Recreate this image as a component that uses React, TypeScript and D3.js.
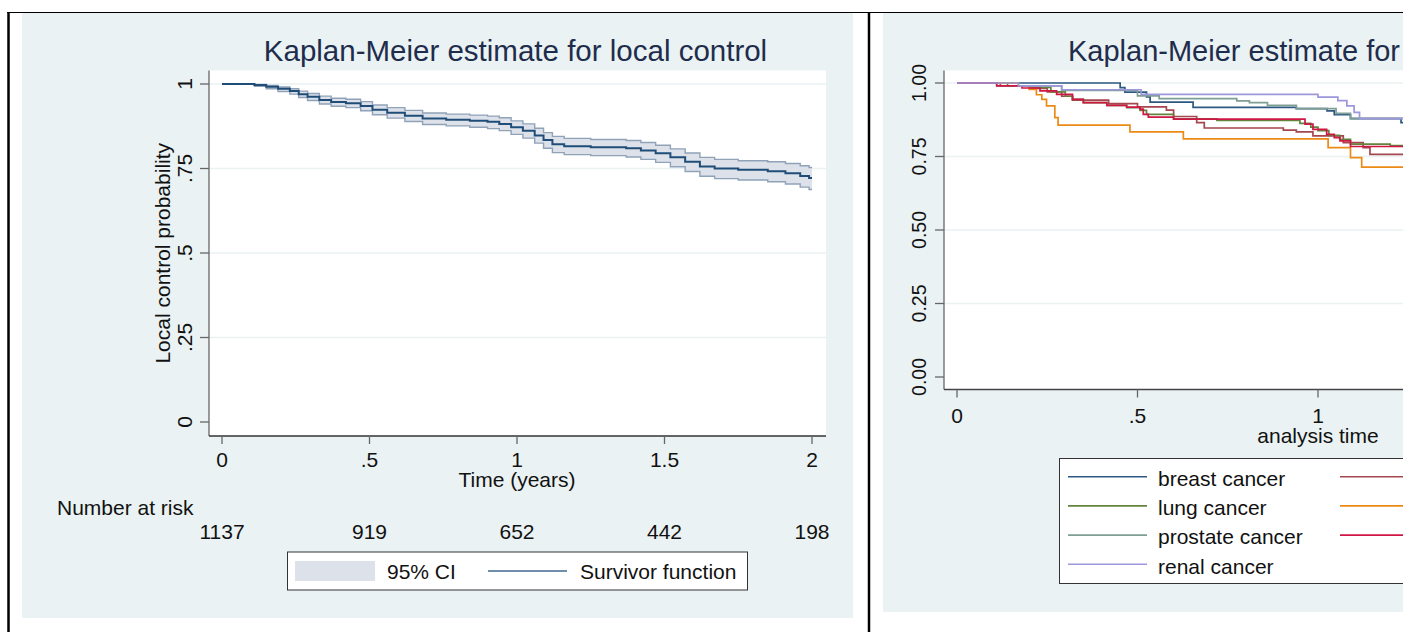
import React from "react";
import * as d3 from "d3";

// overall local control
const kmTime = [0, 0.11, 0.15, 0.19, 0.23, 0.26, 0.29, 0.33, 0.37, 0.42, 0.47, 0.51, 0.56, 0.62, 0.68, 0.76, 0.84, 0.9, 0.94, 0.98, 1.02, 1.06, 1.09, 1.12, 1.16, 1.25, 1.37, 1.42, 1.47, 1.52, 1.57, 1.62, 1.67, 1.75, 1.85, 1.91, 1.96, 1.99, 2.0];
const kmSurv = [1, 0.997, 0.992, 0.986, 0.979, 0.97, 0.962, 0.953, 0.947, 0.943, 0.935, 0.924, 0.915, 0.906, 0.898, 0.894, 0.891, 0.888, 0.882, 0.872, 0.862, 0.848, 0.834, 0.822, 0.816, 0.813, 0.81, 0.803, 0.795, 0.783, 0.77, 0.756, 0.75, 0.746, 0.742, 0.736, 0.728, 0.722, 0.722];
const kmLower = [1, 0.993, 0.986, 0.978, 0.97, 0.96, 0.951, 0.941, 0.934, 0.93, 0.921, 0.909, 0.899, 0.889, 0.88, 0.876, 0.872, 0.868, 0.862, 0.851, 0.84, 0.825, 0.81, 0.797, 0.791, 0.788, 0.784, 0.777, 0.768, 0.755, 0.741, 0.727, 0.72, 0.716, 0.711, 0.704, 0.695, 0.688, 0.688];
const kmUpper = [1, 0.999, 0.996, 0.991, 0.986, 0.979, 0.972, 0.964, 0.958, 0.955, 0.948, 0.938, 0.93, 0.922, 0.914, 0.911, 0.908, 0.905, 0.9, 0.891, 0.882, 0.869, 0.856, 0.845, 0.839, 0.836, 0.833, 0.827, 0.819, 0.808, 0.796, 0.783, 0.777, 0.773, 0.77, 0.765, 0.758, 0.753, 0.753];

const riskTimes = [0, 0.5, 1, 1.5, 2];
const riskCounts = [1137, 919, 652, 442, 198];

const leftXTicks = [0, 0.5, 1, 1.5, 2];
const leftXLabels = ["0", ".5", "1", "1.5", "2"];
const leftYTicks = [0, 0.25, 0.5, 0.75, 1];
const leftYLabels = ["0", ".25", ".5", ".75", "1"];

// by tumour type, right panel (cut off at the page edge)
const breastTime = [0, 0.452, 0.465, 0.525, 0.535, 0.654, 0.94, 1.025, 1.045, 1.09, 1.23, 1.3];
const breastSurv = [1, 0.984, 0.969, 0.953, 0.935, 0.917, 0.913, 0.905, 0.892, 0.879, 0.865, 0.865];
const maroonTime = [0, 0.12, 0.2, 0.25, 0.29, 0.32, 0.42, 0.5, 0.58, 0.6, 0.664, 0.685, 0.904, 0.94, 0.986, 1.07, 1.125, 1.144, 1.3];
const maroonSurv = [1, 0.99, 0.982, 0.97, 0.955, 0.942, 0.93, 0.919, 0.908, 0.886, 0.865, 0.847, 0.84, 0.834, 0.82, 0.797, 0.78, 0.757, 0.757];
const lungTime = [0, 0.14, 0.2, 0.26, 0.3, 0.32, 0.35, 0.415, 0.47, 0.507, 0.525, 0.6, 0.72, 0.95, 0.98, 1.0, 1.03, 1.06, 1.09, 1.2, 1.3];
const lungSurv = [1, 0.99, 0.985, 0.97, 0.955, 0.944, 0.933, 0.924, 0.916, 0.907, 0.893, 0.878, 0.873, 0.863, 0.85, 0.838, 0.822, 0.808, 0.792, 0.787, 0.787];
const orangeTime = [0, 0.17, 0.2, 0.22, 0.235, 0.248, 0.271, 0.28, 0.479, 0.627, 1.028, 1.09, 1.121, 1.3];
const orangeSurv = [1, 0.99, 0.978, 0.96, 0.944, 0.922, 0.882, 0.857, 0.834, 0.81, 0.78, 0.746, 0.714, 0.714];
const prostateTime = [0, 0.11, 0.29, 0.5, 0.56, 0.775, 0.81, 0.86, 0.94, 1.05, 1.09, 1.3];
const prostateSurv = [1, 0.99, 0.975, 0.956, 0.947, 0.939, 0.933, 0.924, 0.913, 0.897, 0.88, 0.88];
const cranberryTime = [0, 0.11, 0.18, 0.23, 0.276, 0.32, 0.35, 0.415, 0.47, 0.507, 0.516, 0.53, 0.6, 0.964, 0.986, 1.024, 1.045, 1.061, 1.09, 1.3];
const cranberrySurv = [1, 0.99, 0.983, 0.973, 0.961, 0.944, 0.933, 0.924, 0.918, 0.911, 0.893, 0.884, 0.877, 0.86, 0.842, 0.825, 0.814, 0.803, 0.784, 0.784];
const renalTime = [0, 0.17, 0.29, 0.51, 1.0, 1.055, 1.08, 1.1, 1.115, 1.3];
const renalSurv = [1, 0.99, 0.977, 0.961, 0.952, 0.94, 0.922, 0.9, 0.879, 0.879];

// legend order (stata fills rows first); hidden labels are off the page
const groupNames = ["breast cancer", "", "lung cancer", "", "prostate cancer", "", "renal cancer"];
const groupColors = ["#2c5882", "#a4474e", "#63833c", "#ec8a16", "#7f9e94", "#cf1645", "#9d97dc"];

const rightXTicks = [0, 0.5, 1, 1.5, 2];
const rightXLabels = ["0", ".5", "1", "1.5", "2"];
const rightYTicks = [0, 0.25, 0.5, 0.75, 1];
const rightYLabels = ["0.00", "0.25", "0.50", "0.75", "1.00"];

const FONT = "'Liberation Sans', Arial, sans-serif";
const BG = "#eaf2f3";
const TITLE = "#1f2d4d";
const FS = 21;

export default function App() {
  // left scales
  const xL = d3.scaleLinear().domain([0, 2]).range([222, 812]);
  const yL = d3.scaleLinear().domain([0, 1]).range([422, 84]);
  // right scales
  const xR = d3.scaleLinear().domain([0, 2]).range([957, 1679]);
  const yR = d3.scaleLinear().domain([0, 1]).range([377, 83]);

  const kmRows = kmTime.map((t, i) => [t, kmSurv[i], kmLower[i], kmUpper[i]]);
  const band = d3
    .area<number[]>()
    .x((d) => xL(d[0]))
    .y0((d) => yL(d[2]))
    .y1((d) => yL(d[3]))
    .curve(d3.curveStepAfter);
  const lineL = (k: number) =>
    d3
      .line<number[]>()
      .x((d) => xL(d[0]))
      .y((d) => yL(d[k]))
      .curve(d3.curveStepAfter)(kmRows) || "";

  const groups = [
    [breastTime, breastSurv],
    [maroonTime, maroonSurv],
    [lungTime, lungSurv],
    [orangeTime, orangeSurv],
    [prostateTime, prostateSurv],
    [cranberryTime, cranberrySurv],
    [renalTime, renalSurv],
  ];
  const lineR = d3
    .line<[number, number]>()
    .x((d) => xR(d[0]))
    .y((d) => yR(d[1]))
    .curve(d3.curveStepAfter);

  const plotL = { x0: 209, x1: 826, y0: 70.5, y1: 436 };
  const plotR = { x0: 944, x1: 1692, y0: 70.5, y1: 389.5 };

  return (
    <svg
      width={1403}
      height={632}
      style={{ position: "absolute", left: 0, top: 0, background: "#fff" }}
      fontFamily={FONT}
    >
      {/* ---------- left panel ---------- */}
      <rect x={22} y={13} width={831} height={605} fill={BG} />
      <rect x={plotL.x0} y={plotL.y0} width={plotL.x1 - plotL.x0} height={plotL.y1 - plotL.y0} fill="#fff" />
      {leftYTicks.filter((v) => v > 0).map((v) => (
        <line key={v} x1={plotL.x0} x2={plotL.x1} y1={yL(v)} y2={yL(v)} stroke={BG} strokeWidth={1.5} />
      ))}
      <text x={515.5} y={61} textAnchor="middle" fontSize={29.5} fill={TITLE}>
        Kaplan-Meier estimate for local control
      </text>

      <path d={band(kmRows) || ""} fill="#dde2ea" />
      <path d={lineL(2)} fill="none" stroke="#8fa2b8" strokeWidth={1.4} />
      <path d={lineL(3)} fill="none" stroke="#8fa2b8" strokeWidth={1.4} />
      <path d={lineL(1)} fill="none" stroke="#1f4d78" strokeWidth={2} />

      <line x1={plotL.x0} x2={plotL.x0} y1={plotL.y0} y2={plotL.y1} stroke="#666" strokeWidth={1.3} />
      <line x1={plotL.x0} x2={plotL.x1} y1={plotL.y1} y2={plotL.y1} stroke="#333" strokeWidth={1.3} />
      {leftYTicks.map((v, i) => (
        <g key={v}>
          <line x1={plotL.x0 - 9} x2={plotL.x0} y1={yL(v)} y2={yL(v)} stroke="#666" strokeWidth={1.3} />
          <text transform={`translate(192,${yL(v)}) rotate(-90)`} textAnchor="middle" fontSize={FS} fill="#111">
            {leftYLabels[i]}
          </text>
        </g>
      ))}
      <text transform={`translate(170,${(plotL.y0 + plotL.y1) / 2}) rotate(-90)`} textAnchor="middle" fontSize={FS} fill="#111">
        Local control probability
      </text>
      {leftXTicks.map((v, i) => (
        <g key={v}>
          <line x1={xL(v)} x2={xL(v)} y1={plotL.y1} y2={plotL.y1 + 8} stroke="#666" strokeWidth={1.3} />
          <text x={xL(v)} y={467} textAnchor="middle" fontSize={FS} fill="#111">
            {leftXLabels[i]}
          </text>
        </g>
      ))}
      <text x={517} y={487} textAnchor="middle" fontSize={FS} fill="#111">
        Time (years)
      </text>

      <text x={57} y={515} fontSize={FS} fill="#111">
        Number at risk
      </text>
      {riskTimes.map((t, i) => (
        <text key={t} x={xL(t)} y={539} textAnchor="middle" fontSize={FS} fill="#111">
          {riskCounts[i]}
        </text>
      ))}

      <rect x={287.5} y={552} width={460} height={38} fill="#fff" stroke="#333" strokeWidth={1} />
      <rect x={295} y={561} width={80} height={20} fill="#dde2ea" />
      <text x={387} y={579} fontSize={FS} fill="#111">
        95% CI
      </text>
      <line x1={488} x2={567} y1={571} y2={571} stroke="#3f6790" strokeWidth={1.6} />
      <text x={580} y={579} fontSize={FS} fill="#111">
        Survivor function
      </text>

      {/* ---------- right panel ---------- */}
      <rect x={883} y={13} width={600} height={599} fill={BG} />
      <rect x={plotR.x0} y={plotR.y0} width={plotR.x1 - plotR.x0} height={plotR.y1 - plotR.y0} fill="#fff" />
      {rightYTicks.filter((v) => v > 0).map((v) => (
        <line key={v} x1={plotR.x0} x2={plotR.x1} y1={yR(v)} y2={yR(v)} stroke={BG} strokeWidth={1.5} />
      ))}
      <text x={1068} y={61} fontSize={29} fill={TITLE}>
        Kaplan-Meier estimate for
      </text>

      {groups.map(([t, s], gi) => (
        <path
          key={gi}
          d={lineR(t.map((v, i) => [v, s[i]] as [number, number])) || ""}
          fill="none"
          stroke={groupColors[gi]}
          strokeWidth={1.7}
        />
      ))}

      <line x1={plotR.x0} x2={plotR.x0} y1={plotR.y0} y2={plotR.y1} stroke="#666" strokeWidth={1.3} />
      <line x1={plotR.x0} x2={plotR.x1} y1={plotR.y1} y2={plotR.y1} stroke="#444" strokeWidth={1.3} />
      {rightYTicks.map((v, i) => (
        <g key={v}>
          <line x1={plotR.x0 - 9} x2={plotR.x0} y1={yR(v)} y2={yR(v)} stroke="#666" strokeWidth={1.3} />
          <text transform={`translate(926,${yR(v)}) rotate(-90)`} textAnchor="middle" fontSize={19.5} fill="#111">
            {rightYLabels[i]}
          </text>
        </g>
      ))}
      {rightXTicks.filter((v) => xR(v) < 1403).map((v, i) => (
        <g key={v}>
          <line x1={xR(v)} x2={xR(v)} y1={plotR.y1} y2={plotR.y1 + 8} stroke="#666" strokeWidth={1.3} />
          <text x={xR(v)} y={423} textAnchor="middle" fontSize={FS} fill="#111">
            {rightXLabels[i]}
          </text>
        </g>
      ))}
      <text x={(plotR.x0 + plotR.x1) / 2} y={442.5} textAnchor="middle" fontSize={FS} fill="#111">
        analysis time
      </text>

      <rect x={1059.5} y={458.5} width={500} height={125} fill="#fff" stroke="#333" strokeWidth={1} />
      {groupNames.map((name, i) => {
        const col = i % 2;
        const row = Math.floor(i / 2);
        const yy = 476.7 + row * 29.2;
        const lx = col === 0 ? 1068 : 1340;
        return (
          <g key={i}>
            <line x1={lx} x2={lx + 79} y1={yy} y2={yy} stroke={groupColors[i]} strokeWidth={1.6} />
            {name && (
              <text x={lx + 90} y={yy + 9.3} fontSize={FS} fill="#111">
                {name}
              </text>
            )}
          </g>
        );
      })}

      {/* table borders around the two figures */}
      <line x1={7} x2={1403} y1={12.5} y2={12.5} stroke="#000" strokeWidth={1} />
      <line x1={8.5} x2={8.5} y1={12} y2={632} stroke="#000" strokeWidth={2.5} />
      <line x1={869} x2={869} y1={12} y2={632} stroke="#000" strokeWidth={2.5} />
    </svg>
  );
}
